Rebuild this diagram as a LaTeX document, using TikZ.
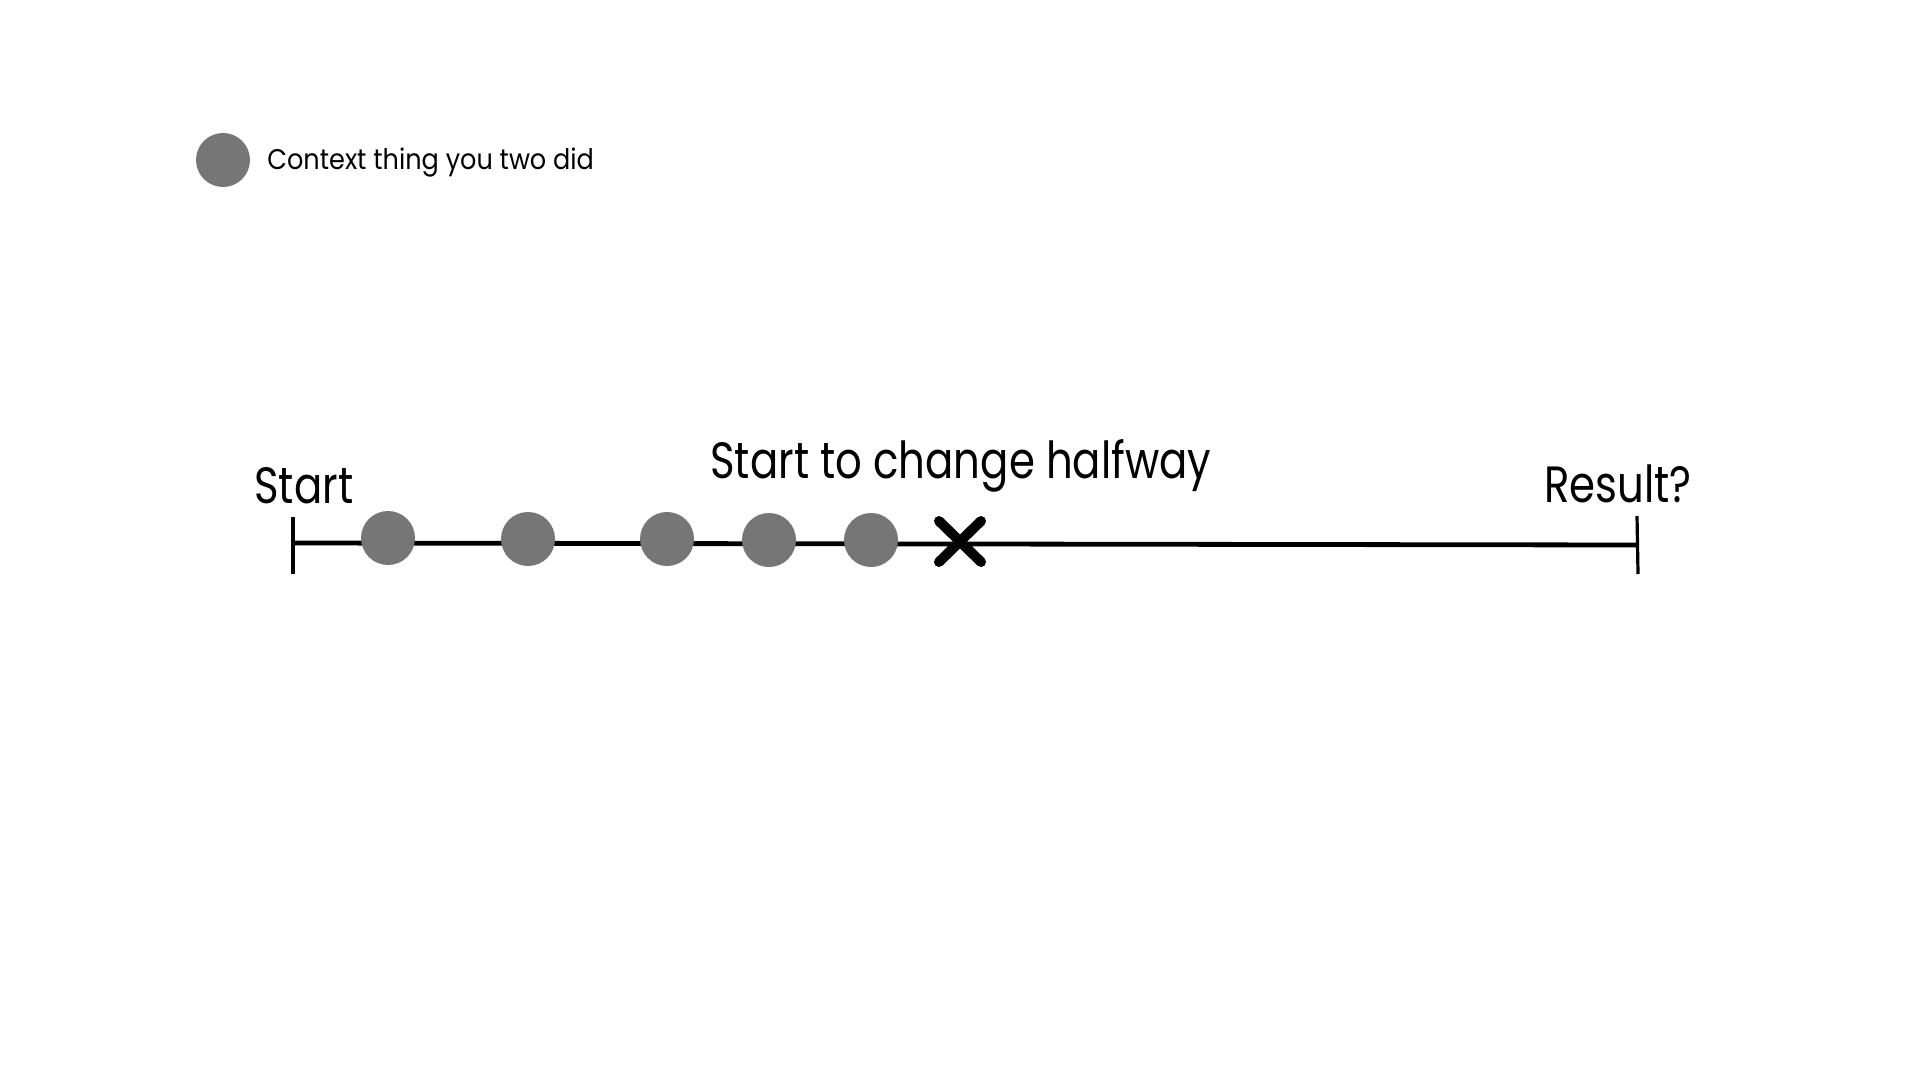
\documentclass[tikz,border=0pt]{standalone}
\usepackage{fontspec}
\setmainfont{Poppins}[FakeStretch=0.82]
\newfontfamily\legendfont{Poppins}[FakeStretch=0.9]
\definecolor{dotgray}{RGB}{118,118,118}
\begin{document}
\begin{tikzpicture}[x=0.5pt,y=-0.5pt,
  dot/.style={circle,fill=dotgray,minimum size=27pt,inner sep=0pt},
  biglbl/.style={anchor=base west,inner sep=0pt,font=\fontsize{25.5}{30}\selectfont},
  smalllbl/.style={anchor=base west,inner sep=0pt,font=\legendfont\fontsize{14.2}{17}\selectfont},
  axisline/.style={line width=2.4pt,black},
  tickline/.style={line width=1.6pt,black},
  crossline/.style={line width=5pt,black,line cap=round}]
\fill[white] (0,0) rectangle (1920,1080);
\useasboundingbox (0,0) rectangle (1920,1080);
% legend
\node[dot] (legdot) at (223,160) {};
\node[smalllbl] (legtxt) at (267,170) {Context thing you two did};
% axis
\coordinate (startpt) at (293,543);
\coordinate (endpt) at (1637,545);
\coordinate (st1) at (293,517);
\coordinate (st2) at (293,574);
\coordinate (et1) at (1637,516);
\coordinate (et2) at (1638,574);
\draw[axisline] (startpt) -- (endpt);
\draw[tickline] (st1) -- (st2);
\draw[tickline] (et1) -- (et2);
% dots
\node[dot] (d1) at (388,538) {};
\node[dot] (d2) at (528,539) {};
\node[dot] (d3) at (667,539) {};
\node[dot] (d4) at (769,540) {};
\node[dot] (d5) at (871,540) {};
% cross
\coordinate (xa) at (939,521);
\coordinate (xb) at (981,562);
\coordinate (xc) at (981,521);
\coordinate (xd) at (939,562);
\draw[crossline] (xa) -- (xb);
\draw[crossline] (xc) -- (xd);
% labels
\node[biglbl] (lstart) at (254,503) {Start};
\node[biglbl] (lhalf) at (710,478) {Start to change halfway};
\node[biglbl] (lres) at (1544,502) {Result?};
\end{tikzpicture}
\end{document}
